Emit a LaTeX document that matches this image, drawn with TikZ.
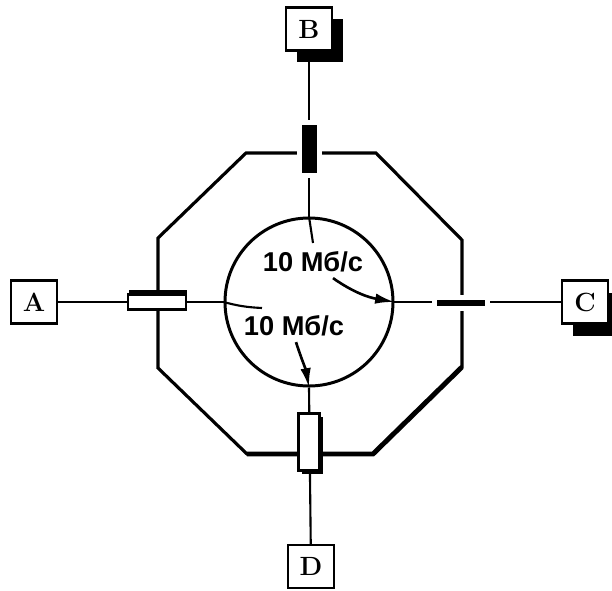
\documentclass[tikz,border=0pt]{standalone}
\usepackage{fontspec}
\usepackage{tikz}
\usetikzlibrary{arrows.meta, positioning, calc, shadows, backgrounds}
\newfontfamily\ratefont{Liberation Sans}

\begin{document}
\begin{tikzpicture}[
    station/.style={rectangle, draw=black, line width=1.4pt, fill=white,
                    minimum width=0.92cm, minimum height=0.86cm, inner sep=0pt,
                    font=\fontsize{15}{18}\selectfont\bfseries},
    shaded/.style={drop shadow={shadow xshift=0.22cm, shadow yshift=-0.24cm,
                   fill=black, opacity=1}},
    bar/.style={rectangle, draw=white, line width=3pt, fill=black, inner sep=0pt},
    plug/.style={rectangle, draw=black, line width=1.2pt, fill=white, inner sep=0pt,
                 drop shadow={shadow xshift=#1, fill=black, opacity=1}},
    port/.style={line width=1.2pt},
    rate/.style={font=\ratefont\bfseries\fontsize{15.5}{18}\selectfont, inner sep=2pt},
    arr/.style={-{Latex[length=11pt, width=6pt]}, line width=1.5pt}
]
\useasboundingbox (-6.18,-5.76) rectangle (6.06,6.04);

% switch housing
\draw[line width=1.8pt, line join=miter] (-1.26,2.98) -- (1.34,2.98) -- (3.06,1.24) -- (3.06,-1.30)
    -- (1.28,-3.04) -- (-1.24,-3.04) -- (-3.02,-1.32) -- (-3.02,1.28) -- cycle;
\draw[line width=2.8pt] (3.06,-1.30) -- (1.28,-3.04) -- (-1.24,-3.04);

\node[circle, draw, line width=1.7pt, minimum size=3.36cm] (ring) at (0,0) {};

% ports
\node[bar, minimum width=0.4cm, minimum height=1.06cm] (barB) at (0.01,3.06) {};
\node[bar, minimum width=1.06cm, minimum height=0.22cm] (barC) at (3.04,-0.02) {};
\node[plug={0.02cm, shadow yshift=0.09cm}, minimum width=1.16cm, minimum height=0.3cm] (plugA) at (-3.04,0) {};
\node[plug={0.07cm, shadow yshift=-0.07cm}, minimum width=0.42cm, minimum height=1.14cm] (plugD) at (0,-2.8) {};

% stations
\node[station] (A) at (-5.5,0) {A};
\node[station, shaded] (B) at (0,5.46) {B};
\node[station, shaded] (C) at (5.52,0) {C};
\node[station] (D) at (0.04,-5.29) {D};

\begin{scope}[on background layer]
\draw[port] (A) -- (ring.west);
\draw[port] (B) -- (ring.north);
\draw[port] (ring.east) -- (C);
\draw[port] (ring.south) -- (D);
\end{scope}

% paths inside the switch
\coordinate (inA) at (-0.94,-0.12);
\coordinate (inB) at (0.08,1.18);
\draw[port] (ring.west) to[bend right=6] (inA);
\draw[port] (ring.north) -- (inB);

\node[rate] (t1) at (0.08,0.8) {10 Мб/с};
\node[rate] (t2) at (-0.3,-0.48) {10 Мб/с};

\draw[arr] ([xshift=0.4cm, yshift=-0.04cm]t1.south) to[out=-35, in=170] (ring.east);
\draw[arr] ([xshift=0.04cm, yshift=-0.04cm]t2.south) to[out=-72, in=100] (ring.south);
\end{tikzpicture}
\end{document}
